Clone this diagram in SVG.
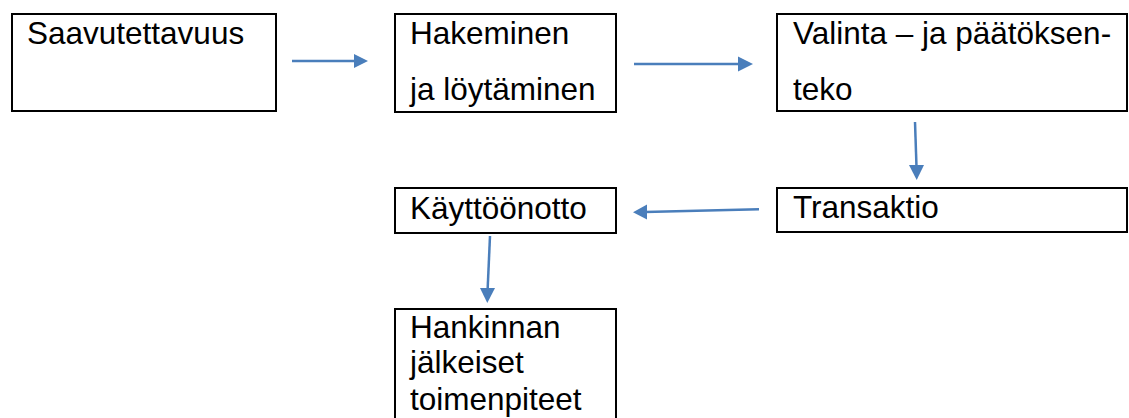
<svg xmlns="http://www.w3.org/2000/svg" width="1129" height="418" viewBox="0 0 1129 418">
<style>
.box{fill:#fff;stroke:#000;stroke-width:2}
.t{font-family:"Liberation Sans",Arial,sans-serif;font-size:31.5px;fill:#000}
.c{stroke:#4A7EBB;stroke-width:2.5;fill:none}
.h{fill:#4A7EBB}
</style>
<rect width="1129" height="418" fill="#fff"/>
<g id="n1"><rect class="box" x="12" y="14" width="264" height="97"/><text class="t" x="27" y="44">Saavutettavuus</text></g>
<g id="n2"><rect class="box" x="395" y="14" width="221" height="98"/><text class="t" x="410" y="44">Hakeminen</text><text class="t" x="410" y="100">ja löytäminen</text></g>
<g id="n3"><rect class="box" x="777" y="14" width="350" height="97"/><text class="t" x="793" y="44">Valinta – ja päätöksen-</text><text class="t" x="793" y="100">teko</text></g>
<g id="n4"><rect class="box" x="777" y="188" width="350" height="44"/><text class="t" x="793" y="218">Transaktio</text></g>
<g id="n5"><rect class="box" x="395" y="188" width="221" height="45"/><text class="t" x="410" y="219">Käyttöönotto</text></g>
<g id="n6"><rect class="box" x="395" y="309" width="221" height="120"/><text class="t" x="410" y="338">Hankinnan</text><text class="t" x="410" y="373">jälkeiset</text><text class="t" x="410" y="410">toimenpiteet</text></g>
<g id="connectors">
<line class="c" x1="292" y1="61" x2="356" y2="61"/><polygon class="h" points="354,54 368,61 354,68"/>
<line class="c" x1="634" y1="64" x2="740" y2="64"/><polygon class="h" points="738,56.5 753,64 738,71.5"/>
<line class="c" x1="915" y1="122" x2="916.5" y2="167"/><polygon class="h" points="909,165 924,165 916.7,180"/>
<line class="c" x1="759" y1="209.3" x2="645" y2="212"/><polygon class="h" points="647,204.5 633,212.3 647,219.5"/>
<line class="c" x1="490" y1="236" x2="487.6" y2="290"/><polygon class="h" points="480,288 495,288 487.3,303"/>
</g>
</svg>
